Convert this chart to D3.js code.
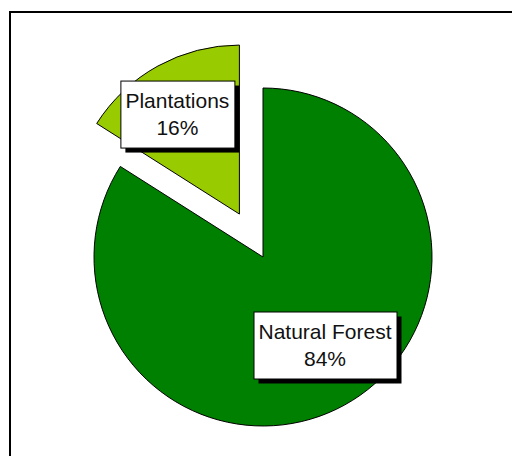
<!DOCTYPE html>
<html>
<head>
<meta charset="utf-8">
<script src="https://cdn.jsdelivr.net/npm/d3@7"></script>
<style>
  html, body { margin: 0; padding: 0; background: #fff; }
  svg { display: block; }
  text { font-family: "Liberation Sans", Arial, sans-serif; }
</style>
</head>
<body>
<script>
// Forest area by origin (share of total, %)
const categories = ["Natural Forest", "Plantations"];
const shares = [84, 16];
const sliceColors = ["#008000", "#99CC00"];

const W = 512, H = 456;
const cx = 263, cy = 257, R = 169;
const explodeDist = [0, 49];
// label box centres relative to each slice's own origin
const labelOffset = [[62, 88], [-62, -100]];

const svg = d3.select("body").append("svg")
  .attr("width", W).attr("height", H);

// chart frame
svg.append("rect")
  .attr("x", 10).attr("y", 12)
  .attr("width", 540).attr("height", 500)
  .attr("fill", "none").attr("stroke", "#000").attr("stroke-width", 2);

const pie = d3.pie().sort(null).value(d => d);
const arcs = pie(shares);
const arc = d3.arc().innerRadius(0).outerRadius(R);

const g = svg.append("g").attr("transform", `translate(${cx},${cy})`);

const slices = g.selectAll("g.slice").data(arcs).enter().append("g")
  .attr("class", "slice")
  .attr("transform", (d, i) => {
    const a = (d.startAngle + d.endAngle) / 2;
    const e = explodeDist[i];
    return `translate(${Math.sin(a) * e},${-Math.cos(a) * e})`;
  });

slices.append("path")
  .attr("d", arc)
  .attr("fill", (d, i) => sliceColors[i])
  .attr("stroke", "#000")
  .attr("stroke-width", 1);

// data labels: name and percentage in a boxed callout with drop shadow
const fontSize = 21, lineGap = 27;
slices.each(function (d, i) {
  const s = d3.select(this);
  const lx = labelOffset[i][0], ly = labelOffset[i][1];
  const lab = s.append("g").attr("transform", `translate(${lx},${ly})`);
  const shadow = lab.append("rect").attr("fill", "#000");
  const box = lab.append("rect").attr("fill", "#fff").attr("stroke", "#000").attr("stroke-width", 1);
  const t = lab.append("text")
    .attr("text-anchor", "middle")
    .attr("font-size", fontSize)
    .attr("fill", "#111");
  t.append("tspan").attr("x", 0).attr("y", -6).text(categories[i]);
  t.append("tspan").attr("x", 0).attr("y", -6 + lineGap).text(shares[i] + "%");
  const bb = t.node().getBBox();
  const bw = Math.round(bb.width + 10), bh = 67;
  box.attr("x", -bw / 2 + 0.5).attr("y", -bh / 2 + 0.5).attr("width", bw).attr("height", bh);
  shadow.attr("x", -bw / 2 + 5).attr("y", -bh / 2 + 5).attr("width", bw).attr("height", bh);
});
</script>
</body>
</html>
